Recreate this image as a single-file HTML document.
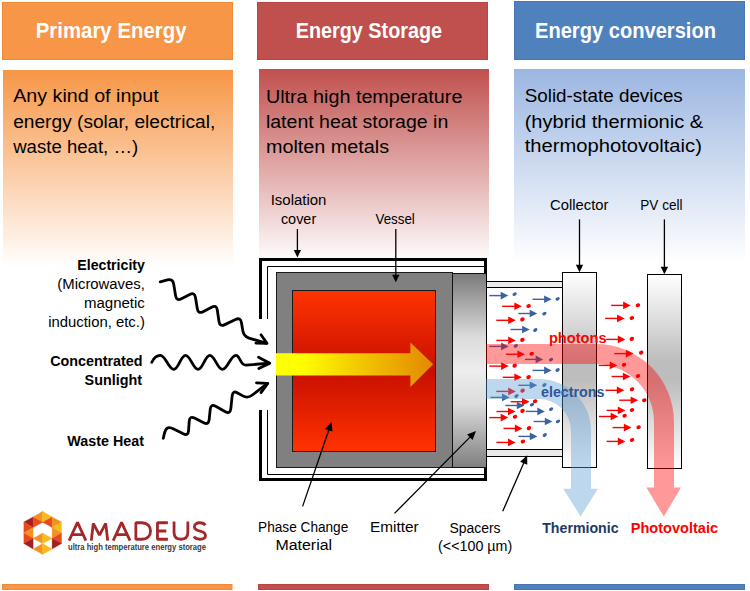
<!DOCTYPE html>
<html><head><meta charset="utf-8"><style>
html,body{margin:0;padding:0;background:#fff;}
body{width:750px;height:591px;overflow:hidden;}
svg{display:block;font-family:"Liberation Sans",sans-serif;}
</style></head><body>
<svg width="750" height="591" viewBox="0 0 750 591">
<defs>
<linearGradient id="gO" x1="0" y1="0" x2="0" y2="1"><stop offset="0" stop-color="#F79646"/><stop offset="1" stop-color="#FFFFFF"/></linearGradient>
<linearGradient id="gR" x1="0" y1="0" x2="0" y2="1"><stop offset="0" stop-color="#C0504D"/><stop offset="1" stop-color="#FFFFFF"/></linearGradient>
<linearGradient id="gB" x1="0" y1="0" x2="0" y2="1"><stop offset="0" stop-color="#9BB6E1"/><stop offset="1" stop-color="#FFFFFF"/></linearGradient>
<linearGradient id="gPCM" x1="0" y1="0" x2="0" y2="1"><stop offset="0" stop-color="#FF3300"/><stop offset="0.5" stop-color="#C80F00"/><stop offset="1" stop-color="#FF3300"/></linearGradient>
<linearGradient id="gEm" x1="0" y1="0" x2="0" y2="1"><stop offset="0" stop-color="#7A7A7A"/><stop offset="0.33" stop-color="#DCDCDC"/><stop offset="0.5" stop-color="#EDEDED"/><stop offset="0.67" stop-color="#DCDCDC"/><stop offset="1" stop-color="#7F7F7F"/></linearGradient>
<linearGradient id="gCol" x1="0" y1="0" x2="0" y2="1"><stop offset="0" stop-color="#FFFFFF"/><stop offset="0.45" stop-color="#BDBDBD"/><stop offset="0.55" stop-color="#BDBDBD"/><stop offset="1" stop-color="#FFFFFF"/></linearGradient>
<linearGradient id="gY" x1="0" y1="0" x2="1" y2="0"><stop offset="0" stop-color="#FFFF00"/><stop offset="0.16" stop-color="#FFFF00"/><stop offset="0.47" stop-color="#F5D000"/><stop offset="1" stop-color="#E38800"/></linearGradient>
</defs>
<rect x="2.5" y="2.5" width="230" height="57" fill="#F79646" stroke="#F08A37" stroke-width="1"/>
<rect x="257.5" y="2.5" width="230" height="57" fill="#C0504D" stroke="#B94542" stroke-width="1"/>
<rect x="514.5" y="1.5" width="230" height="58" fill="#4F81BD" stroke="#4876B3" stroke-width="1"/>
<rect x="3" y="70" width="230" height="197" fill="url(#gO)"/>
<rect x="259" y="69" width="230" height="194" fill="url(#gR)"/>
<rect x="514" y="69" width="231" height="194" fill="url(#gB)"/>
<rect x="2.5" y="584.5" width="229.5" height="5" fill="#F79646" stroke="#F08A37" stroke-width="1"/>
<rect x="258.5" y="584.5" width="230" height="5" fill="#C0504D" stroke="#B94542" stroke-width="1"/>
<rect x="514.5" y="584.5" width="230" height="5" fill="#4F81BD" stroke="#4876B3" stroke-width="1"/>
<path d="M267.5,319 V266.5 H484 M267.5,410 V474.5 H484" fill="none" stroke="#000" stroke-width="1"/>
<rect x="268" y="267" width="216" height="207" fill="#fff"/>
<path d="M260.5,319 V259.5 H485.5 V479.5 H260.5 V410" fill="none" stroke="#000" stroke-width="3"/>
<rect x="276.5" y="272.5" width="176" height="195" fill="#808080" stroke="#1a1a1a" stroke-width="1"/>
<rect x="292.5" y="290.5" width="143" height="161" fill="url(#gPCM)" stroke="#1a1a1a" stroke-width="1"/>
<path d="M276,353.3 H410.4 V342.5 L433.2,364.3 L410.4,387.1 V375.6 H276 Z" fill="url(#gY)"/>
<rect x="452.5" y="273.5" width="34" height="194" fill="url(#gEm)" stroke="#111" stroke-width="1"/>
<rect x="486.5" y="281.5" width="76" height="6" fill="#EAEAEA" stroke="#000" stroke-width="1"/>
<rect x="486.5" y="449.5" width="76" height="7" fill="#EAEAEA" stroke="#000" stroke-width="1"/>
<line x1="486.5" y1="273" x2="486.5" y2="468" stroke="#000" stroke-width="1"/>
<rect x="562.5" y="272.5" width="34" height="195" fill="url(#gCol)" stroke="#000" stroke-width="1"/>
<rect x="647.5" y="274.5" width="34" height="194" fill="url(#gCol)" stroke="#000" stroke-width="1"/>
<line x1="489.3" y1="295.6" x2="501.2" y2="295.6" stroke="#3863A0" stroke-width="1.4"/><path d="M508.3,295.6 L500.7,291.8 L500.7,299.4 Z" fill="#3863A0"/><ellipse cx="514.6" cy="294.2" rx="2.3" ry="1.6" transform="rotate(-30 514.6 294.2)" fill="#3863A0"/>
<line x1="532.5" y1="299.3" x2="544.6" y2="299.3" stroke="#3863A0" stroke-width="1.4"/><path d="M551.7,299.3 L544.1,295.5 L544.1,303.1 Z" fill="#3863A0"/><ellipse cx="557.6" cy="298.8" rx="2.3" ry="1.6" transform="rotate(-30 557.6 298.8)" fill="#3863A0"/>
<line x1="502.1" y1="306.3" x2="514.8" y2="306.3" stroke="#FF0000" stroke-width="1.4"/><path d="M521.9,306.3 L514.3,302.5 L514.3,310.1 Z" fill="#FF0000"/><ellipse cx="528.6" cy="306" rx="2.3" ry="1.9" transform="rotate(-20 528.6 306)" fill="#FF0000"/>
<line x1="518.3" y1="313.5" x2="530.2" y2="313.5" stroke="#3863A0" stroke-width="1.4"/><path d="M537.3,313.5 L529.7,309.7 L529.7,317.3 Z" fill="#3863A0"/><ellipse cx="544.4" cy="313.7" rx="2.3" ry="1.6" transform="rotate(-30 544.4 313.7)" fill="#3863A0"/>
<line x1="496.3" y1="320.3" x2="508.7" y2="320.3" stroke="#FF0000" stroke-width="1.4"/><path d="M515.8,320.3 L508.2,316.5 L508.2,324.1 Z" fill="#FF0000"/><ellipse cx="522.4" cy="319.4" rx="2.3" ry="1.9" transform="rotate(-20 522.4 319.4)" fill="#FF0000"/>
<line x1="510.5" y1="329.5" x2="522.6" y2="329.5" stroke="#3863A0" stroke-width="1.4"/><path d="M529.7,329.5 L522.1,325.7 L522.1,333.3 Z" fill="#3863A0"/><ellipse cx="535.3" cy="330" rx="2.3" ry="1.6" transform="rotate(-30 535.3 330)" fill="#3863A0"/>
<line x1="496.3" y1="340.4" x2="508.7" y2="340.4" stroke="#FF0000" stroke-width="1.4"/><path d="M515.8,340.4 L508.2,336.6 L508.2,344.2 Z" fill="#FF0000"/><ellipse cx="522.4" cy="339.9" rx="2.3" ry="1.9" transform="rotate(-20 522.4 339.9)" fill="#FF0000"/>
<line x1="489.3" y1="346.4" x2="501.6" y2="346.4" stroke="#3863A0" stroke-width="1.4"/><path d="M508.7,346.4 L501.1,342.6 L501.1,350.2 Z" fill="#3863A0"/><ellipse cx="515.8" cy="345.9" rx="2.3" ry="1.6" transform="rotate(-30 515.8 345.9)" fill="#3863A0"/>
<line x1="505.9" y1="354.2" x2="517.9" y2="354.2" stroke="#FF0000" stroke-width="1.4"/><path d="M525,354.2 L517.4,350.4 L517.4,358 Z" fill="#FF0000"/><ellipse cx="531.7" cy="353.7" rx="2.3" ry="1.9" transform="rotate(-20 531.7 353.7)" fill="#FF0000"/>
<line x1="525" y1="359.4" x2="536.1" y2="359.4" stroke="#3863A0" stroke-width="1.4"/><path d="M543.2,359.4 L535.6,355.6 L535.6,363.2 Z" fill="#3863A0"/><ellipse cx="551" cy="359.7" rx="2.3" ry="1.6" transform="rotate(-30 551 359.7)" fill="#3863A0"/>
<line x1="489.3" y1="366.1" x2="501.6" y2="366.1" stroke="#FF0000" stroke-width="1.4"/><path d="M508.7,366.1 L501.1,362.3 L501.1,369.9 Z" fill="#FF0000"/><ellipse cx="514.7" cy="365.6" rx="2.3" ry="1.9" transform="rotate(-20 514.7 365.6)" fill="#FF0000"/>
<line x1="532.5" y1="370.4" x2="544.6" y2="370.4" stroke="#3863A0" stroke-width="1.4"/><path d="M551.7,370.4 L544.1,366.6 L544.1,374.2 Z" fill="#3863A0"/><ellipse cx="557.6" cy="370" rx="2.3" ry="1.6" transform="rotate(-30 557.6 370)" fill="#3863A0"/>
<line x1="502.7" y1="377.3" x2="514.8" y2="377.3" stroke="#FF0000" stroke-width="1.4"/><path d="M521.9,377.3 L514.3,373.5 L514.3,381.1 Z" fill="#FF0000"/><ellipse cx="528.6" cy="377.1" rx="2.3" ry="1.9" transform="rotate(-20 528.6 377.1)" fill="#FF0000"/>
<line x1="518.3" y1="385.3" x2="530.2" y2="385.3" stroke="#3863A0" stroke-width="1.4"/><path d="M537.3,385.3 L529.7,381.5 L529.7,389.1 Z" fill="#3863A0"/><ellipse cx="544.4" cy="385" rx="2.3" ry="1.6" transform="rotate(-30 544.4 385)" fill="#3863A0"/>
<line x1="496.3" y1="391.4" x2="508.7" y2="391.4" stroke="#FF0000" stroke-width="1.4"/><path d="M515.8,391.4 L508.2,387.6 L508.2,395.2 Z" fill="#FF0000"/><ellipse cx="522.6" cy="390.6" rx="2.3" ry="1.9" transform="rotate(-20 522.6 390.6)" fill="#FF0000"/>
<line x1="490.4" y1="397.4" x2="502.5" y2="397.4" stroke="#3863A0" stroke-width="1.4"/><path d="M509.6,397.4 L502,393.6 L502,401.2 Z" fill="#3863A0"/><ellipse cx="516.5" cy="396" rx="2.3" ry="1.6" transform="rotate(-30 516.5 396)" fill="#3863A0"/>
<line x1="510.8" y1="401.7" x2="522.5" y2="401.7" stroke="#FF0000" stroke-width="1.4"/><path d="M529.6,401.7 L522,397.9 L522,405.5 Z" fill="#FF0000"/><ellipse cx="535.1" cy="401.2" rx="2.3" ry="1.9" transform="rotate(-20 535.1 401.2)" fill="#FF0000"/>
<line x1="505.4" y1="405.5" x2="517.3" y2="405.5" stroke="#3863A0" stroke-width="1.4"/><path d="M524.4,405.5 L516.8,401.7 L516.8,409.3 Z" fill="#3863A0"/><ellipse cx="532" cy="404.6" rx="2.3" ry="1.6" transform="rotate(-30 532 404.6)" fill="#3863A0"/>
<line x1="496.4" y1="411.5" x2="508.5" y2="411.5" stroke="#FF0000" stroke-width="1.4"/><path d="M515.6,411.5 L508,407.7 L508,415.3 Z" fill="#FF0000"/><ellipse cx="522.5" cy="410.9" rx="2.3" ry="1.9" transform="rotate(-20 522.5 410.9)" fill="#FF0000"/>
<line x1="525.8" y1="411.4" x2="537.8" y2="411.4" stroke="#3863A0" stroke-width="1.4"/><path d="M544.9,411.4 L537.3,407.6 L537.3,415.2 Z" fill="#3863A0"/><ellipse cx="551.1" cy="409.2" rx="2.3" ry="1.6" transform="rotate(-30 551.1 409.2)" fill="#3863A0"/>
<line x1="489.3" y1="417.6" x2="501.2" y2="417.6" stroke="#FF0000" stroke-width="1.4"/><path d="M508.3,417.6 L500.7,413.8 L500.7,421.4 Z" fill="#FF0000"/><ellipse cx="515" cy="416.7" rx="2.3" ry="1.9" transform="rotate(-20 515 416.7)" fill="#FF0000"/>
<line x1="533.6" y1="421.5" x2="545.3" y2="421.5" stroke="#3863A0" stroke-width="1.4"/><path d="M552.4,421.5 L544.8,417.7 L544.8,425.3 Z" fill="#3863A0"/><ellipse cx="558" cy="421.3" rx="2.3" ry="1.6" transform="rotate(-30 558 421.3)" fill="#3863A0"/>
<line x1="503.5" y1="428.4" x2="515.4" y2="428.4" stroke="#FF0000" stroke-width="1.4"/><path d="M522.5,428.4 L514.9,424.6 L514.9,432.2 Z" fill="#FF0000"/><ellipse cx="529" cy="428.1" rx="2.3" ry="1.9" transform="rotate(-20 529 428.1)" fill="#FF0000"/>
<line x1="518.4" y1="436.4" x2="530.3" y2="436.4" stroke="#3863A0" stroke-width="1.4"/><path d="M537.4,436.4 L529.8,432.6 L529.8,440.2 Z" fill="#3863A0"/><ellipse cx="544.8" cy="435" rx="2.3" ry="1.6" transform="rotate(-30 544.8 435)" fill="#3863A0"/>
<line x1="496.4" y1="442.4" x2="508.5" y2="442.4" stroke="#FF0000" stroke-width="1.4"/><path d="M515.6,442.4 L508,438.6 L508,446.2 Z" fill="#FF0000"/><ellipse cx="522.9" cy="441.5" rx="2.3" ry="1.9" transform="rotate(-20 522.9 441.5)" fill="#FF0000"/>
<line x1="611.2" y1="305.4" x2="623.6" y2="305.4" stroke="#FF0000" stroke-width="1.4"/><path d="M630.7,305.4 L623.1,301.6 L623.1,309.2 Z" fill="#FF0000"/><ellipse cx="637.9" cy="305.2" rx="2.3" ry="1.9" transform="rotate(-20 637.9 305.2)" fill="#FF0000"/>
<line x1="605.1" y1="318.4" x2="617.5" y2="318.4" stroke="#FF0000" stroke-width="1.4"/><path d="M624.6,318.4 L617,314.6 L617,322.2 Z" fill="#FF0000"/><ellipse cx="631.8" cy="318" rx="2.3" ry="1.9" transform="rotate(-20 631.8 318)" fill="#FF0000"/>
<line x1="606.2" y1="339.4" x2="618.3" y2="339.4" stroke="#FF0000" stroke-width="1.4"/><path d="M625.4,339.4 L617.8,335.6 L617.8,343.2 Z" fill="#FF0000"/><ellipse cx="631.8" cy="338.9" rx="2.3" ry="1.9" transform="rotate(-20 631.8 338.9)" fill="#FF0000"/>
<line x1="614.3" y1="353.6" x2="626.4" y2="353.6" stroke="#FF0000" stroke-width="1.4"/><path d="M633.5,353.6 L625.9,349.8 L625.9,357.4 Z" fill="#FF0000"/><ellipse cx="641.2" cy="352.6" rx="2.3" ry="1.9" transform="rotate(-20 641.2 352.6)" fill="#FF0000"/>
<line x1="598.7" y1="365.4" x2="610.2" y2="365.4" stroke="#FF0000" stroke-width="1.4"/><path d="M617.3,365.4 L609.7,361.6 L609.7,369.2 Z" fill="#FF0000"/><ellipse cx="624" cy="364.7" rx="2.3" ry="1.9" transform="rotate(-20 624 364.7)" fill="#FF0000"/>
<line x1="611.6" y1="376.5" x2="623.4" y2="376.5" stroke="#FF0000" stroke-width="1.4"/><path d="M630.5,376.5 L622.9,372.7 L622.9,380.3 Z" fill="#FF0000"/><ellipse cx="638" cy="376" rx="2.3" ry="1.9" transform="rotate(-20 638 376)" fill="#FF0000"/>
<line x1="605.5" y1="390.3" x2="617.3" y2="390.3" stroke="#FF0000" stroke-width="1.4"/><path d="M624.4,390.3 L616.8,386.5 L616.8,394.1 Z" fill="#FF0000"/><ellipse cx="632" cy="389.3" rx="2.3" ry="1.9" transform="rotate(-20 632 389.3)" fill="#FF0000"/>
<line x1="619.3" y1="400.2" x2="631.1" y2="400.2" stroke="#FF0000" stroke-width="1.4"/><path d="M638.2,400.2 L630.6,396.4 L630.6,404 Z" fill="#FF0000"/><ellipse cx="644.3" cy="400.2" rx="2.3" ry="1.9" transform="rotate(-20 644.3 400.2)" fill="#FF0000"/>
<line x1="606.6" y1="410.4" x2="618.3" y2="410.4" stroke="#FF0000" stroke-width="1.4"/><path d="M625.4,410.4 L617.8,406.6 L617.8,414.2 Z" fill="#FF0000"/><ellipse cx="632" cy="410" rx="2.3" ry="1.9" transform="rotate(-20 632 410)" fill="#FF0000"/>
<line x1="599" y1="416.5" x2="611.2" y2="416.5" stroke="#FF0000" stroke-width="1.4"/><path d="M618.3,416.5 L610.7,412.7 L610.7,420.3 Z" fill="#FF0000"/><ellipse cx="624.6" cy="415.7" rx="2.3" ry="1.9" transform="rotate(-20 624.6 415.7)" fill="#FF0000"/>
<line x1="612.6" y1="427.6" x2="624.4" y2="427.6" stroke="#FF0000" stroke-width="1.4"/><path d="M631.5,427.6 L623.9,423.8 L623.9,431.4 Z" fill="#FF0000"/><ellipse cx="638.6" cy="427.2" rx="2.3" ry="1.9" transform="rotate(-20 638.6 427.2)" fill="#FF0000"/>
<line x1="606.6" y1="441.4" x2="618.3" y2="441.4" stroke="#FF0000" stroke-width="1.4"/><path d="M625.4,441.4 L617.8,437.6 L617.8,445.2 Z" fill="#FF0000"/><ellipse cx="632.1" cy="440" rx="2.3" ry="1.9" transform="rotate(-20 632.1 440)" fill="#FF0000"/>
<path d="M486,344 H596 A78,78 0 0 1 674,422 V487.5 H681 L663.8,516.6 L646.4,487.5 H654 V422 A58,58 0 0 0 596,364 H486 Z" fill="rgba(255,0,0,0.4)"/>
<path d="M486,379 H539 A52,52 0 0 1 591,431 V488.7 H598 L580.6,516.4 L563.2,488.7 H571 V431 A32,32 0 0 0 539,399 H486 Z" fill="rgba(91,155,213,0.4)"/>
<line x1="297.4" y1="229" x2="297.4" y2="251" stroke="#000" stroke-width="1.3"/><path d="M297.4,257.5 L293.8,250 L301,250 Z" fill="#000"/>
<line x1="395.8" y1="229" x2="395.8" y2="275.7" stroke="#000" stroke-width="1.3"/><path d="M395.8,282.2 L392.1,274.7 L399.5,274.7 Z" fill="#000"/>
<line x1="579.5" y1="219.4" x2="579.5" y2="265.7" stroke="#000" stroke-width="1.3"/><path d="M579.5,272.2 L575.8,264.7 L583.2,264.7 Z" fill="#000"/>
<line x1="664.4" y1="219.4" x2="664.4" y2="267.7" stroke="#000" stroke-width="1.3"/><path d="M664.4,274.2 L660.7,266.7 L668.1,266.7 Z" fill="#000"/>
<line x1="302.6" y1="506.4" x2="329.07" y2="429.28" stroke="#000" stroke-width="1.3"/><path d="M331.6,421.9 L332.43,431.49 L325.05,428.96 Z" fill="#000"/>
<line x1="394.5" y1="513.4" x2="470.51" y2="436.64" stroke="#000" stroke-width="1.3"/><path d="M476,431.1 L472.58,440.1 L467.04,434.61 Z" fill="#000"/>
<line x1="502.7" y1="511.3" x2="524.08" y2="462.35" stroke="#000" stroke-width="1.3"/><path d="M527.2,455.2 L527.25,464.83 L520.1,461.7 Z" fill="#000"/>
<path d="M160.2,281.8 L167.47,279.95 Q172.8,278.6 173.68,284.03 L175.62,295.87 Q176.5,301.3 181.39,298.79 L189.71,294.51 Q194.6,292 195.48,297.43 L197.32,308.77 Q198.2,314.2 203.07,311.64 L211.63,307.16 Q216.5,304.6 217.3,310.04 L219,321.56 Q219.8,327 224.76,324.63 L235.54,319.47 Q240.5,317.1 241.42,322.52 L242.88,331.08 Q243.8,336.5 249.07,338.09 L266,343.2" fill="none" stroke="#000" stroke-width="2.8" stroke-linecap="round" stroke-linejoin="round"/>
<path d="M261,334.8 L267,343.4 L256,343.1" fill="none" stroke="#000" stroke-width="2.8" stroke-linecap="round" stroke-linejoin="round"/>
<path d="M151.8,362.3 C153.5,358.5 156.5,355.3 160.3,355.3 C165.7,355.3 168.4,369.3 173.8,369.3 C178.48,369.3 180.82,355.3 185.5,355.3 C190.54,355.3 193.06,369.3 198.1,369.3 C202.78,369.3 205.12,355.3 209.8,355.3 C214.84,355.3 217.36,369.3 222.4,369.3 C227.8,369.3 230.5,355.3 235.9,355.3 C240.4,355.3 239.9,365.5 246,365.2 L269,363.2" fill="none" stroke="#000" stroke-width="2.8" stroke-linecap="round" stroke-linejoin="round"/>
<path d="M258.5,357.2 L269.8,363.2 L258.8,368.5" fill="none" stroke="#000" stroke-width="2.8" stroke-linecap="round" stroke-linejoin="round"/>
<path d="M163.3,438.3 L164.3,433.9 Q165.3,429.5 167.3,428.15 L167.3,428.15 Q169.3,426.8 174.22,429.25 L183.28,433.75 Q188.2,436.2 188.57,430.71 L189.23,421.09 Q189.6,415.6 194.51,418.08 L203.69,422.72 Q208.6,425.2 209.16,419.73 L210.24,409.17 Q210.8,403.7 215.63,406.34 L225.37,411.66 Q230.2,414.3 230.79,408.83 L232.21,395.67 Q232.8,390.2 237.58,392.91 L242.82,395.89 Q247.6,398.6 251.97,395.26 L267.5,383.4" fill="none" stroke="#000" stroke-width="2.8" stroke-linecap="round" stroke-linejoin="round"/>
<path d="M256.5,382.8 L267.8,383.3 L261,392.6" fill="none" stroke="#000" stroke-width="2.8" stroke-linecap="round" stroke-linejoin="round"/>
<path d="M23.8,521.95 L33.1,516.88 L33.1,527.44 Z" fill="#A3201F" stroke="#A3201F" stroke-width="0.3"/>
<path d="M23.8,521.95 L33.1,527.44 L23.8,532.94 Z" fill="#E8491D" stroke="#E8491D" stroke-width="0.3"/>
<path d="M23.8,532.94 L33.1,527.44 L33.1,538.43 Z" fill="#F3921F" stroke="#F3921F" stroke-width="0.3"/>
<path d="M23.8,532.94 L33.1,538.43 L23.8,543.5 Z" fill="#E8491D" stroke="#E8491D" stroke-width="0.3"/>
<path d="M23.8,543.5 L33.1,538.43 L33.1,549 Z" fill="#A3201F" stroke="#A3201F" stroke-width="0.3"/>
<path d="M33.1,516.88 L42.65,511.21 L42.65,522.37 Z" fill="#F3921F" stroke="#F3921F" stroke-width="0.3"/>
<path d="M33.1,516.88 L42.65,522.37 L33.1,527.44 Z" fill="#E8491D" stroke="#E8491D" stroke-width="0.3"/>
<path d="M33.1,538.43 L42.65,532.94 L42.65,543.5 Z" fill="#F3921F" stroke="#F3921F" stroke-width="0.3"/>
<path d="M33.1,549 L42.65,543.5 L42.65,554.49 Z" fill="#F3921F" stroke="#F3921F" stroke-width="0.3"/>
<path d="M42.65,511.21 L52.12,516.88 L42.65,522.37 Z" fill="#FBBA1B" stroke="#FBBA1B" stroke-width="0.3"/>
<path d="M42.65,522.37 L52.12,516.88 L52.12,527.44 Z" fill="#E8491D" stroke="#E8491D" stroke-width="0.3"/>
<path d="M42.65,532.94 L52.12,538.43 L42.65,543.5 Z" fill="#FBBA1B" stroke="#FBBA1B" stroke-width="0.3"/>
<path d="M42.65,543.5 L52.12,549 L42.65,554.49 Z" fill="#FBBA1B" stroke="#FBBA1B" stroke-width="0.3"/>
<path d="M52.12,516.88 L61.59,521.95 L52.12,527.44 Z" fill="#F3921F" stroke="#F3921F" stroke-width="0.3"/>
<path d="M52.12,527.44 L61.59,521.95 L61.59,532.94 Z" fill="#FBBA1B" stroke="#FBBA1B" stroke-width="0.3"/>
<path d="M52.12,527.44 L61.59,532.94 L52.12,538.43 Z" fill="#F3921F" stroke="#F3921F" stroke-width="0.3"/>
<path d="M52.12,538.43 L61.59,532.94 L61.59,543.5 Z" fill="#E8491D" stroke="#E8491D" stroke-width="0.3"/>
<path d="M52.12,538.43 L61.59,543.5 L52.12,549 Z" fill="#A3201F" stroke="#A3201F" stroke-width="0.3"/>
<path d="M69.1,540.6 L77.5,522.4 L85.9,540.6 M72.4,534.6 H82.6 M91.3,540.6 L93.3,523.4 L99.5,535.2 L105.7,523.4 L107.7,540.6 M113.2,540.6 L121.6,522.4 L130,540.6 M116.5,534.6 H126.7 M135.85,522.75 H141.3 C147.8,522.75 150.55,526.6 150.55,531 C150.55,535.4 147.8,539.25 141.3,539.25 H135.85 Z M167.9,522.75 H157.45 V539.25 H167.9 M157.45,531 H166.3 M174.05,521.4 V532.3 C174.05,536.9 176.9,539.25 180.95,539.25 C185,539.25 187.85,536.9 187.85,532.3 V521.4 M205.3,525.2 C204,523.3 202,522.75 199.8,522.75 C196.6,522.75 194.4,524.5 194.4,526.9 C194.4,529.6 197.2,530.3 200.1,531.05 C203.4,531.9 205.5,533.1 205.5,535.5 C205.5,538 203,539.25 199.8,539.25 C197,539.25 195,538.4 193.9,536.6" fill="none" stroke="#A3282A" stroke-width="2.8" stroke-linejoin="bevel"/>
<text x="68" y="550.3" font-size="8.2" fill="#3a3a3a" textLength="138" lengthAdjust="spacingAndGlyphs" font-weight="bold">ultra high temperature energy storage</text>
<text x="35.7" y="38.4" font-size="21.6" fill="#fff" textLength="150.9" lengthAdjust="spacingAndGlyphs" font-weight="bold">Primary Energy</text>
<text x="295.7" y="38.4" font-size="21.6" fill="#fff" textLength="146.4" lengthAdjust="spacingAndGlyphs" font-weight="bold">Energy Storage</text>
<text x="535" y="38.2" font-size="21.6" fill="#fff" textLength="181" lengthAdjust="spacingAndGlyphs" font-weight="bold">Energy conversion</text>
<text x="13.2" y="102" font-size="17.5" fill="#000" textLength="145.5" lengthAdjust="spacingAndGlyphs">Any kind of input</text>
<text x="13.2" y="128.2" font-size="17.5" fill="#000" textLength="202.1" lengthAdjust="spacingAndGlyphs">energy (solar, electrical,</text>
<text x="13.2" y="152.5" font-size="17.5" fill="#000" textLength="125" lengthAdjust="spacingAndGlyphs">waste heat, …)</text>
<text x="265.9" y="102.6" font-size="17.5" fill="#000" textLength="196.5" lengthAdjust="spacingAndGlyphs">Ultra high temperature</text>
<text x="265.9" y="128.2" font-size="17.5" fill="#000" textLength="182.4" lengthAdjust="spacingAndGlyphs">latent heat storage in</text>
<text x="265.9" y="152.6" font-size="17.5" fill="#000" textLength="123.2" lengthAdjust="spacingAndGlyphs">molten metals</text>
<text x="524.7" y="102" font-size="17.5" fill="#000" textLength="158.1" lengthAdjust="spacingAndGlyphs">Solid-state devices</text>
<text x="524.7" y="128" font-size="17.5" fill="#000" textLength="178.6" lengthAdjust="spacingAndGlyphs">(hybrid thermionic &amp;</text>
<text x="524.7" y="152.2" font-size="17.5" fill="#000" textLength="177.2" lengthAdjust="spacingAndGlyphs">thermophotovoltaic)</text>
<text x="270.7" y="205" font-size="14" fill="#000" textLength="55.7" lengthAdjust="spacingAndGlyphs">Isolation</text>
<text x="280.9" y="224" font-size="14" fill="#000" textLength="35.3" lengthAdjust="spacingAndGlyphs">cover</text>
<text x="375.5" y="224" font-size="14" fill="#000" textLength="39.3" lengthAdjust="spacingAndGlyphs">Vessel</text>
<text x="550.1" y="209.8" font-size="14" fill="#000" textLength="58.3" lengthAdjust="spacingAndGlyphs">Collector</text>
<text x="640.3" y="209.8" font-size="14" fill="#000" textLength="42.2" lengthAdjust="spacingAndGlyphs">PV cell</text>
<text x="77.3" y="270" font-size="14" fill="#000" textLength="67.6" lengthAdjust="spacingAndGlyphs" font-weight="bold">Electricity</text>
<text x="57.3" y="288.9" font-size="14" fill="#000" textLength="87.6" lengthAdjust="spacingAndGlyphs">(Microwaves,</text>
<text x="83.9" y="307.6" font-size="14" fill="#000" textLength="61" lengthAdjust="spacingAndGlyphs">magnetic</text>
<text x="48.2" y="326.8" font-size="14" fill="#000" textLength="96.7" lengthAdjust="spacingAndGlyphs">induction, etc.)</text>
<text x="50.2" y="365.5" font-size="14" fill="#000" textLength="92.4" lengthAdjust="spacingAndGlyphs" font-weight="bold">Concentrated</text>
<text x="84.6" y="384.6" font-size="14" fill="#000" textLength="57.4" lengthAdjust="spacingAndGlyphs" font-weight="bold">Sunlight</text>
<text x="67.3" y="445.5" font-size="14" fill="#000" textLength="76.6" lengthAdjust="spacingAndGlyphs" font-weight="bold">Waste Heat</text>
<text x="258.1" y="531.8" font-size="14" fill="#000" textLength="90.2" lengthAdjust="spacingAndGlyphs">Phase Change</text>
<text x="275.4" y="549.9" font-size="14" fill="#000" textLength="56.7" lengthAdjust="spacingAndGlyphs">Material</text>
<text x="370" y="532.4" font-size="14" fill="#000" textLength="48.7" lengthAdjust="spacingAndGlyphs">Emitter</text>
<text x="449.4" y="532.5" font-size="14" fill="#000" textLength="51.2" lengthAdjust="spacingAndGlyphs">Spacers</text>
<text x="438.1" y="551" font-size="14" fill="#000" textLength="74.1" lengthAdjust="spacingAndGlyphs">(&lt;&lt;100 µm)</text>
<text x="542.2" y="532.7" font-size="14.2" fill="#1F3864" textLength="76.4" lengthAdjust="spacingAndGlyphs" font-weight="bold">Thermionic</text>
<text x="630.7" y="532.7" font-size="14.2" fill="#FF0000" textLength="87.4" lengthAdjust="spacingAndGlyphs" font-weight="bold">Photovoltaic</text>
<text x="548.9" y="342.6" font-size="14.5" fill="#FF0000" textLength="57.7" lengthAdjust="spacingAndGlyphs" font-weight="bold">photons</text>
<text x="541" y="397.4" font-size="14.5" fill="#2F5597" textLength="63.5" lengthAdjust="spacingAndGlyphs" font-weight="bold">electrons</text>
</svg>
</body></html>
